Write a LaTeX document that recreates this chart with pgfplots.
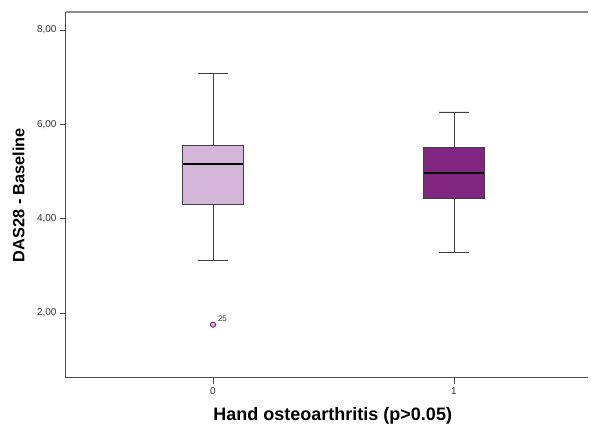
\documentclass[border=0pt]{standalone}
\usepackage{pgfplots}
\pgfplotsset{compat=1.18}
\usepgfplotslibrary{statistics}
\usepackage{fontspec}
\setmainfont{Liberation Sans}
\definecolor{lilac}{RGB}{212,182,219}
\definecolor{plum}{RGB}{128,38,128}
\begin{document}
\begin{tikzpicture}
\begin{axis}[
  scale only axis, width=522pt, height=366pt,
  xmin=-0.61, xmax=1.556, ymin=0.62, ymax=8.38,
  axis x line*=bottom, axis y line*=left,
  axis line style={-, black!70, line width=1pt},
  xtick={0,1}, xticklabels={0,1},
  ytick={2,4,6,8}, yticklabels={{2,00},{4,00},{6,00},{8,00}},
  tick align=outside,
  major tick length=6pt,
  tick style={black!70, line width=0.8pt},
  ticklabel style={font=\fontsize{10}{10}\selectfont, text=black!80},
  /pgf/number format/assume math mode=true,
  xlabel={Hand osteoarthritis (p>0.05)},
  ylabel={DAS28 - Baseline},
  xlabel style={font=\fontsize{18}{20}\selectfont\bfseries, at={(axis description cs:0.511,-0.115)}, anchor=base},
  ylabel style={font=\fontsize{16.3}{18}\selectfont\bfseries, at={(axis description cs:-0.091,0.5)}, anchor=center},
  boxplot/draw direction=y,
  clip=false,
]
\addplot[boxplot prepared={draw position=0, lower whisker=3.11, lower quartile=4.31, median=5.16, upper quartile=5.56, upper whisker=7.08, box extend=0.25, whisker extend=0.125, every median/.style={line width=2pt, black}},
  fill=lilac, draw=black!75, line width=0.8pt,
  mark=*, mark size=2.6pt, mark options={fill=lilac, draw=plum!70!black, line width=0.8pt}] coordinates {(0,1.75)};
\addplot[boxplot prepared={draw position=1, lower whisker=3.29, lower quartile=4.42, median=4.96, upper quartile=5.51, upper whisker=6.26, box extend=0.25, whisker extend=0.125, every median/.style={line width=2pt, black}},
  fill=plum, draw=black!75, line width=0.8pt] coordinates {};
\node[font=\fontsize{8}{8}\selectfont, anchor=south west, inner sep=0pt, text=black!80] at (axis cs:0.02,1.82) {25};
\draw[black!45, line width=1.2pt] (rel axis cs:1,1) -- (rel axis cs:0,1);
\end{axis}
\path ([shift={(-66pt,-44pt)}]current axis.south west) rectangle ([shift={(3pt,12pt)}]current axis.north east);
\end{tikzpicture}
\end{document}
